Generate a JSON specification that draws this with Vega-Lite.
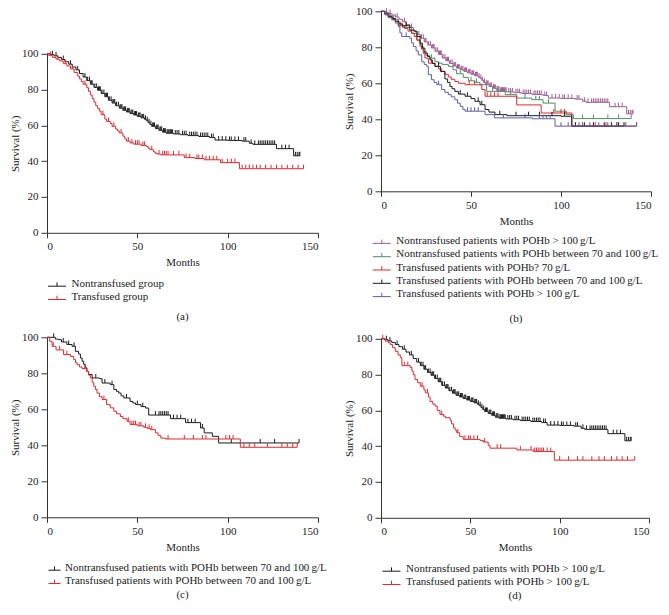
{
"$schema": "https://vega.github.io/schema/vega-lite/v6.json",
"padding": {"left": 9, "top": 5.3, "right": 0, "bottom": 0},
"config": {
  "font": "Liberation Serif",
  "view": {"stroke": null},
  "axis": {"labelFont": "Liberation Serif", "labelFontSize": 11, "labelColor": "#222", "titleFont": "Liberation Serif", "titleFontSize": 11, "titleFontWeight": "normal", "titleColor": "#222", "domainColor": "#333", "tickColor": "#333", "grid": false},
  "axisX": {"tickSize": 5, "labelPadding": 3, "titlePadding": 5},
  "axisY": {"tickSize": 6, "labelPadding": 3, "titlePadding": 1},
  "legend": {"labelFont": "Liberation Serif", "labelFontSize": 11, "labelColor": "#222", "labelLimit": 400, "symbolType": "M-2.25,0.6H2.25M0,0.6V-0.35", "symbolSize": 64, "symbolStrokeWidth": 1, "symbolFillColor": "transparent", "rowPadding": 1.3, "labelOffset": 9, "padding": 0, "orient": "none", "direction": "vertical", "title": null},
  "title": {"font": "Liberation Serif", "fontSize": 11, "fontWeight": "normal", "color": "#222"},
  "point": {"shape": "M0,0V-1", "size": 64, "filled": false, "strokeWidth": 1, "opacity": 1},
  "line": {"interpolate": "step-after", "strokeWidth": 1}
},
"datasets": {
"nt": [
{"t":0,"s":100,"c":0},{"t":2,"s":99.5,"c":0},{"t":3,"s":99.5,"c":1},{"t":4,"s":98.8,"c":0},{"t":5,"s":98.8,"c":1},{"t":6,"s":98,"c":0},{"t":8,"s":96.8,"c":0},{"t":9,"s":96.8,"c":1},{"t":10,"s":95.6,"c":0},{"t":12,"s":94.2,"c":0},{"t":13,"s":94.2,"c":1},{"t":14,"s":92.6,"c":0},{"t":16,"s":91,"c":0},{"t":17,"s":91,"c":1},{"t":18,"s":89,"c":0},{"t":20,"s":87,"c":0},{"t":21,"s":87,"c":1},{"t":22,"s":85,"c":0},{"t":24,"s":83,"c":0},{"t":25,"s":83,"c":1},{"t":26,"s":81.2,"c":0},{"t":28,"s":79.6,"c":0},{"t":29,"s":79.6,"c":1},{"t":30,"s":77.8,"c":0},{"t":32,"s":76,"c":0},{"t":33,"s":76,"c":1},{"t":34,"s":74,"c":0},{"t":36,"s":72.5,"c":0},{"t":37,"s":72.5,"c":1},{"t":38,"s":71,"c":0},{"t":40,"s":69.6,"c":0},{"t":41,"s":69.6,"c":1},{"t":42,"s":68.4,"c":0},{"t":43,"s":68.4,"c":1},{"t":44,"s":67.5,"c":0},{"t":45,"s":67.5,"c":1},{"t":46,"s":66.6,"c":0},{"t":47,"s":66.6,"c":1},{"t":48,"s":65.8,"c":0},{"t":49,"s":65.8,"c":1},{"t":50,"s":65,"c":0},{"t":51,"s":65,"c":1},{"t":52,"s":64.2,"c":0},{"t":53,"s":64.2,"c":1},{"t":54,"s":63.4,"c":0},{"t":55,"s":62.6,"c":0},{"t":56,"s":61.5,"c":0},{"t":57,"s":60.4,"c":0},{"t":58,"s":59.4,"c":0},{"t":59,"s":59.4,"c":1},{"t":60,"s":58.2,"c":0},{"t":61,"s":58.2,"c":1},{"t":62,"s":57.2,"c":0},{"t":63,"s":57.2,"c":1},{"t":64,"s":56.2,"c":0},{"t":65,"s":56.2,"c":1},{"t":66,"s":55.6,"c":0},{"t":67,"s":55.6,"c":1},{"t":68,"s":55.6,"c":1},{"t":69,"s":55.6,"c":1},{"t":70,"s":55.2,"c":0},{"t":71,"s":55.2,"c":1},{"t":72,"s":55.2,"c":1},{"t":73,"s":55.2,"c":1},{"t":74,"s":54.8,"c":0},{"t":75,"s":54.8,"c":1},{"t":76,"s":54.8,"c":1},{"t":77,"s":54.8,"c":1},{"t":78,"s":54.3,"c":0},{"t":79,"s":54.3,"c":1},{"t":80,"s":54.3,"c":1},{"t":81,"s":54.3,"c":1},{"t":82,"s":54.3,"c":1},{"t":83,"s":54.3,"c":1},{"t":84,"s":53.8,"c":0},{"t":85,"s":53.8,"c":1},{"t":86,"s":53.8,"c":1},{"t":87,"s":53.8,"c":1},{"t":88,"s":53.8,"c":1},{"t":89,"s":53.8,"c":1},{"t":90,"s":53.2,"c":0},{"t":91,"s":53.2,"c":1},{"t":92,"s":53.2,"c":1},{"t":93,"s":51.8,"c":0},{"t":95,"s":51.8,"c":1},{"t":97,"s":51.8,"c":1},{"t":99,"s":51.8,"c":1},{"t":100,"s":51.6,"c":0},{"t":101,"s":51.6,"c":1},{"t":102,"s":51.6,"c":1},{"t":104,"s":51.6,"c":1},{"t":106,"s":51.6,"c":1},{"t":108,"s":51.2,"c":0},{"t":109,"s":51.2,"c":1},{"t":110,"s":51.2,"c":1},{"t":112,"s":50,"c":0},{"t":113,"s":50,"c":1},{"t":114,"s":49.4,"c":0},{"t":115,"s":49.4,"c":1},{"t":117,"s":49.4,"c":1},{"t":118,"s":49.4,"c":1},{"t":119,"s":49.4,"c":1},{"t":120,"s":49.4,"c":1},{"t":121,"s":49.4,"c":1},{"t":122,"s":49.4,"c":1},{"t":123,"s":49.4,"c":1},{"t":124,"s":49.4,"c":1},{"t":125,"s":49.4,"c":1},{"t":126,"s":49.4,"c":1},{"t":127,"s":47,"c":0},{"t":130,"s":47,"c":1},{"t":132,"s":47,"c":1},{"t":134,"s":47,"c":1},{"t":136.5,"s":43,"c":0},{"t":137.5,"s":43,"c":1},{"t":138.5,"s":43,"c":1},{"t":139.5,"s":43,"c":1},{"t":140,"s":43,"c":1},
{"t":22.5,"s":85,"c":1},{"t":23.5,"s":85,"c":1},{"t":24.5,"s":83,"c":1},{"t":26.5,"s":81.2,"c":1},{"t":27.5,"s":81.2,"c":1},{"t":28.5,"s":79.6,"c":1},{"t":29.5,"s":79.6,"c":1},{"t":30.5,"s":77.8,"c":1},{"t":31.5,"s":77.8,"c":1},{"t":32.5,"s":76,"c":1},{"t":33.5,"s":76,"c":1},{"t":34.5,"s":74,"c":1},{"t":35.5,"s":74,"c":1},{"t":36.5,"s":72.5,"c":1},{"t":37.5,"s":72.5,"c":1},{"t":38.5,"s":71,"c":1},{"t":39.5,"s":71,"c":1},{"t":40.5,"s":69.6,"c":1},{"t":41.5,"s":69.6,"c":1},{"t":42.5,"s":68.4,"c":1},{"t":43.5,"s":68.4,"c":1},{"t":44.5,"s":67.5,"c":1},{"t":45.5,"s":67.5,"c":1},{"t":46.5,"s":66.6,"c":1},{"t":47.5,"s":66.6,"c":1},{"t":48.5,"s":65.8,"c":1},{"t":49.5,"s":65.8,"c":1},{"t":50.5,"s":65,"c":1},{"t":51.5,"s":65,"c":1},{"t":52.5,"s":64.2,"c":1},{"t":53.5,"s":64.2,"c":1},{"t":54.5,"s":63.4,"c":1},{"t":55.5,"s":62.6,"c":1},{"t":56.5,"s":61.5,"c":1},{"t":57.5,"s":60.4,"c":1},{"t":58.5,"s":59.4,"c":1},{"t":59.5,"s":59.4,"c":1},{"t":60.5,"s":58.2,"c":1},{"t":61.5,"s":58.2,"c":1},{"t":62.5,"s":57.2,"c":1},{"t":63.5,"s":57.2,"c":1},{"t":64.5,"s":56.2,"c":1},{"t":65.5,"s":56.2,"c":1},{"t":66.5,"s":55.6,"c":1},{"t":67.5,"s":55.6,"c":1},{"t":68.5,"s":55.6,"c":1},{"t":69.5,"s":55.6,"c":1}
],
"tg": [
{"t":0,"s":100,"c":0},{"t":1,"s":99,"c":0},{"t":2,"s":99,"c":1},{"t":3,"s":98,"c":0},{"t":5,"s":97,"c":0},{"t":6,"s":97,"c":1},{"t":7,"s":96,"c":0},{"t":9,"s":94.5,"c":0},{"t":10,"s":94.5,"c":1},{"t":11,"s":93.2,"c":0},{"t":13,"s":91.5,"c":0},{"t":14,"s":91.5,"c":1},{"t":15,"s":89.5,"c":0},{"t":17,"s":87.5,"c":0},{"t":18,"s":86,"c":0},{"t":19,"s":84.5,"c":0},{"t":20,"s":83,"c":0},{"t":21,"s":83,"c":1},{"t":22,"s":81,"c":0},{"t":23,"s":79,"c":0},{"t":24,"s":77,"c":0},{"t":25,"s":75,"c":0},{"t":26,"s":73,"c":0},{"t":27,"s":71,"c":0},{"t":28,"s":69.5,"c":0},{"t":29,"s":68,"c":0},{"t":30,"s":66,"c":0},{"t":31,"s":66,"c":1},{"t":32,"s":63.5,"c":0},{"t":33,"s":62.2,"c":0},{"t":34,"s":62.2,"c":1},{"t":35,"s":61,"c":0},{"t":36,"s":59.5,"c":0},{"t":37,"s":59.5,"c":1},{"t":38,"s":58,"c":0},{"t":39,"s":57,"c":0},{"t":40,"s":55.8,"c":0},{"t":41,"s":55.8,"c":1},{"t":42,"s":54,"c":0},{"t":43,"s":52.5,"c":0},{"t":44,"s":51.2,"c":0},{"t":45,"s":51.2,"c":1},{"t":46,"s":50.2,"c":0},{"t":47,"s":50.2,"c":1},{"t":48,"s":49.5,"c":0},{"t":49,"s":49.5,"c":1},{"t":50,"s":49.5,"c":1},{"t":51,"s":49.5,"c":1},{"t":52,"s":48.8,"c":0},{"t":53,"s":48.8,"c":1},{"t":54,"s":48.8,"c":1},{"t":55,"s":48.2,"c":0},{"t":56,"s":47.2,"c":0},{"t":57,"s":46.4,"c":0},{"t":58,"s":46.4,"c":1},{"t":59,"s":45.2,"c":0},{"t":60,"s":44.4,"c":0},{"t":61,"s":44,"c":0},{"t":62,"s":44,"c":1},{"t":63,"s":43.5,"c":0},{"t":64,"s":43.5,"c":1},{"t":65,"s":43.5,"c":1},{"t":66,"s":43.5,"c":1},{"t":67,"s":43.5,"c":1},{"t":70,"s":43.5,"c":1},{"t":73,"s":43.5,"c":1},{"t":76,"s":42,"c":0},{"t":77,"s":42,"c":1},{"t":79,"s":42,"c":1},{"t":82,"s":41.5,"c":0},{"t":83,"s":41.5,"c":1},{"t":84,"s":41.5,"c":1},{"t":86,"s":41.5,"c":1},{"t":87,"s":40.8,"c":0},{"t":88,"s":40.8,"c":1},{"t":90,"s":40.8,"c":1},{"t":92,"s":40.8,"c":1},{"t":94,"s":40.8,"c":1},{"t":96,"s":39.2,"c":0},{"t":97,"s":39.2,"c":1},{"t":100,"s":39.2,"c":1},{"t":102,"s":39.2,"c":1},{"t":104,"s":39.2,"c":1},{"t":106.5,"s":35.8,"c":0},{"t":108,"s":35.8,"c":1},{"t":110,"s":35.8,"c":1},{"t":112,"s":35.8,"c":1},{"t":114,"s":35.8,"c":1},{"t":116,"s":35.8,"c":1},{"t":118,"s":35.8,"c":1},{"t":121,"s":35.8,"c":1},{"t":124,"s":35.8,"c":1},{"t":127,"s":35.8,"c":1},{"t":130,"s":35.8,"c":1},{"t":133,"s":35.8,"c":1},{"t":136,"s":35.8,"c":1},{"t":139,"s":35.8,"c":1},{"t":142,"s":35.8,"c":1}
],
"t100d": [
{"t":0,"s":100,"c":0},{"t":1,"s":100,"c":1},{"t":2.4,"s":98.7,"c":0},{"t":4,"s":97.8,"c":0},{"t":5.2,"s":96.8,"c":0},{"t":6.5,"s":95,"c":0},{"t":8,"s":93,"c":0},{"t":9.5,"s":91,"c":0},{"t":10.8,"s":89.4,"c":0},{"t":11.7,"s":85,"c":0},{"t":13,"s":85,"c":1},{"t":15,"s":85,"c":1},{"t":16.4,"s":84,"c":0},{"t":17.3,"s":82,"c":0},{"t":18,"s":80,"c":0},{"t":19,"s":77.3,"c":0},{"t":20.5,"s":75.5,"c":0},{"t":22,"s":73.5,"c":0},{"t":23,"s":73.5,"c":1},{"t":24,"s":71.5,"c":0},{"t":24.8,"s":69.8,"c":0},{"t":26,"s":69.8,"c":1},{"t":26.5,"s":67.5,"c":0},{"t":27.5,"s":65,"c":0},{"t":29,"s":63.5,"c":0},{"t":30.3,"s":62.4,"c":0},{"t":31.5,"s":60,"c":0},{"t":33,"s":57.7,"c":0},{"t":34,"s":57.7,"c":1},{"t":35,"s":56.8,"c":0},{"t":36,"s":55.9,"c":0},{"t":38.7,"s":54.5,"c":0},{"t":39.5,"s":52.5,"c":0},{"t":40.6,"s":50.3,"c":0},{"t":41.5,"s":49,"c":0},{"t":42.4,"s":47.5,"c":0},{"t":43,"s":47.5,"c":1},{"t":44,"s":45.5,"c":0},{"t":46,"s":43.8,"c":0},{"t":47,"s":43.8,"c":1},{"t":49,"s":43.8,"c":1},{"t":50,"s":43.8,"c":1},{"t":52,"s":43.8,"c":1},{"t":54,"s":43.8,"c":1},{"t":55.5,"s":43.1,"c":0},{"t":57.3,"s":42.3,"c":0},{"t":58,"s":42.3,"c":1},{"t":60,"s":40.5,"c":0},{"t":61,"s":38.9,"c":0},{"t":65,"s":38.9,"c":1},{"t":67,"s":38.9,"c":1},{"t":76,"s":37.9,"c":0},{"t":78,"s":37.9,"c":1},{"t":84,"s":37.9,"c":1},{"t":85.2,"s":37,"c":0},{"t":86,"s":37,"c":1},{"t":87,"s":37,"c":1},{"t":88,"s":37,"c":1},{"t":89,"s":37,"c":1},{"t":90,"s":37,"c":1},{"t":91,"s":37,"c":1},{"t":93,"s":37,"c":1},{"t":95,"s":37,"c":1},{"t":97,"s":32.2,"c":0},{"t":100,"s":32.2,"c":1},{"t":105,"s":32.2,"c":1},{"t":110,"s":32.2,"c":1},{"t":113,"s":32.2,"c":1},{"t":118,"s":32.2,"c":1},{"t":122,"s":32.2,"c":1},{"t":125,"s":32.2,"c":1},{"t":129,"s":32.2,"c":1},{"t":132,"s":32.2,"c":1},{"t":135,"s":32.2,"c":1},{"t":138,"s":32.2,"c":1},{"t":142,"s":32.2,"c":1}
],
"nt70c": [
{"t":0,"s":100,"c":0},{"t":3.7,"s":100,"c":1},{"t":4.6,"s":99,"c":0},{"t":6.5,"s":98.7,"c":0},{"t":8,"s":97.4,"c":0},{"t":9,"s":97.4,"c":1},{"t":11,"s":96,"c":0},{"t":12,"s":96,"c":1},{"t":13.9,"s":95,"c":0},{"t":15,"s":95,"c":1},{"t":15.7,"s":92.2,"c":0},{"t":17.5,"s":90.7,"c":0},{"t":18.5,"s":88.5,"c":0},{"t":19.4,"s":86.7,"c":0},{"t":20.3,"s":85,"c":0},{"t":21.2,"s":83,"c":0},{"t":22.1,"s":81,"c":0},{"t":23,"s":79.3,"c":0},{"t":25,"s":77.4,"c":0},{"t":27,"s":77.4,"c":1},{"t":29,"s":77,"c":0},{"t":30.5,"s":74.6,"c":0},{"t":32,"s":74.6,"c":1},{"t":35,"s":73.7,"c":0},{"t":36,"s":73.7,"c":1},{"t":37,"s":71,"c":0},{"t":38.5,"s":70,"c":0},{"t":39.7,"s":69,"c":0},{"t":41,"s":67.5,"c":0},{"t":42.5,"s":66.3,"c":0},{"t":44,"s":66.3,"c":1},{"t":46,"s":64.4,"c":0},{"t":47.5,"s":63.5,"c":0},{"t":49,"s":62.6,"c":0},{"t":50,"s":62.6,"c":1},{"t":52,"s":61.5,"c":0},{"t":53,"s":61.5,"c":1},{"t":54.5,"s":60.7,"c":0},{"t":56.3,"s":56.8,"c":0},{"t":60,"s":56.8,"c":1},{"t":62,"s":56.8,"c":1},{"t":63,"s":56.8,"c":1},{"t":64,"s":56.8,"c":1},{"t":65,"s":56.8,"c":1},{"t":66,"s":56.8,"c":1},{"t":67,"s":56.8,"c":1},{"t":68.4,"s":54.8,"c":0},{"t":70,"s":54.8,"c":1},{"t":72,"s":54.8,"c":1},{"t":74,"s":54.8,"c":1},{"t":76.7,"s":52.6,"c":0},{"t":78,"s":52.6,"c":1},{"t":80,"s":52.6,"c":1},{"t":82,"s":52.6,"c":1},{"t":85,"s":49.6,"c":0},{"t":86,"s":49.6,"c":1},{"t":87,"s":46.9,"c":0},{"t":91.5,"s":45,"c":0},{"t":95,"s":41.3,"c":0},{"t":102,"s":41.3,"c":1},{"t":118,"s":41.3,"c":1},{"t":126,"s":41.3,"c":1},{"t":139.5,"s":41.3,"c":1}
],
"t70c": [
{"t":0,"s":100,"c":0},{"t":1.5,"s":97.8,"c":0},{"t":2.8,"s":95,"c":0},{"t":3.5,"s":95,"c":1},{"t":5,"s":93,"c":0},{"t":7,"s":93,"c":1},{"t":9.2,"s":90.4,"c":0},{"t":11,"s":90.4,"c":1},{"t":13,"s":89.4,"c":0},{"t":14.8,"s":87.6,"c":0},{"t":15.8,"s":86,"c":0},{"t":16.6,"s":84.8,"c":0},{"t":18,"s":83.5,"c":0},{"t":19.4,"s":82.6,"c":0},{"t":21,"s":82.6,"c":1},{"t":22,"s":81,"c":0},{"t":23,"s":79,"c":0},{"t":24,"s":77.4,"c":0},{"t":25,"s":75,"c":0},{"t":25.9,"s":72.8,"c":0},{"t":26.8,"s":71,"c":0},{"t":27.7,"s":69,"c":0},{"t":29,"s":67,"c":0},{"t":30.5,"s":65.4,"c":0},{"t":31.5,"s":65.4,"c":1},{"t":33,"s":62.6,"c":0},{"t":35,"s":60.8,"c":0},{"t":37,"s":58.9,"c":0},{"t":38.5,"s":57.5,"c":0},{"t":40.6,"s":56,"c":0},{"t":42,"s":54.8,"c":0},{"t":44.3,"s":53.3,"c":0},{"t":45,"s":53.3,"c":1},{"t":46,"s":51.5,"c":0},{"t":47,"s":51.5,"c":1},{"t":48,"s":51.5,"c":1},{"t":49,"s":51.5,"c":1},{"t":50,"s":50.8,"c":0},{"t":51,"s":50.8,"c":1},{"t":52,"s":50.8,"c":1},{"t":53.6,"s":50,"c":0},{"t":54.5,"s":50,"c":1},{"t":55.5,"s":49.4,"c":0},{"t":56.5,"s":49.4,"c":1},{"t":57.3,"s":48.7,"c":0},{"t":58,"s":48.7,"c":1},{"t":60,"s":46.9,"c":0},{"t":61.5,"s":45.5,"c":0},{"t":63,"s":44,"c":0},{"t":65.6,"s":43.5,"c":0},{"t":67,"s":43.5,"c":1},{"t":76,"s":43.5,"c":1},{"t":81,"s":43.5,"c":1},{"t":86,"s":43.5,"c":1},{"t":88,"s":43.5,"c":1},{"t":99,"s":43.5,"c":1},{"t":101,"s":43.5,"c":1},{"t":103,"s":43.5,"c":1},{"t":107,"s":38.9,"c":0},{"t":109,"s":38.9,"c":1},{"t":112,"s":38.9,"c":1},{"t":115,"s":38.9,"c":1},{"t":122,"s":38.9,"c":1},{"t":130,"s":38.9,"c":1},{"t":133,"s":38.9,"c":1},{"t":136,"s":38.9,"c":1},{"t":138.5,"s":38.9,"c":1}
],
"nt70b": [
{"t":0,"s":100,"c":0},{"t":3,"s":99,"c":0},{"t":5,"s":97.5,"c":0},{"t":7,"s":95.5,"c":0},{"t":9.6,"s":92.4,"c":0},{"t":12,"s":91,"c":0},{"t":14,"s":91,"c":1},{"t":17,"s":87.8,"c":0},{"t":19.8,"s":84,"c":0},{"t":21.7,"s":80.4,"c":0},{"t":23.5,"s":77.7,"c":0},{"t":25,"s":75.5,"c":0},{"t":27,"s":74,"c":0},{"t":28,"s":74,"c":1},{"t":30,"s":72,"c":0},{"t":31.8,"s":71.2,"c":0},{"t":34,"s":70.5,"c":0},{"t":37.4,"s":69.4,"c":0},{"t":40,"s":67.5,"c":0},{"t":42,"s":65.3,"c":0},{"t":44,"s":65.3,"c":1},{"t":45.7,"s":63.3,"c":0},{"t":48.5,"s":61.4,"c":0},{"t":50,"s":61.4,"c":1},{"t":52,"s":60.5,"c":0},{"t":53,"s":60.5,"c":1},{"t":55,"s":59.2,"c":0},{"t":58.7,"s":55.5,"c":0},{"t":62,"s":55.5,"c":1},{"t":65,"s":55.5,"c":1},{"t":69,"s":53.7,"c":0},{"t":72,"s":53.7,"c":1},{"t":75.4,"s":51.8,"c":0},{"t":80,"s":51.8,"c":1},{"t":83.7,"s":50.9,"c":0},{"t":86,"s":50.9,"c":1},{"t":88,"s":50.9,"c":1},{"t":90,"s":49,"c":0},{"t":93,"s":49,"c":1},{"t":96.7,"s":44.5,"c":0},{"t":103,"s":42.6,"c":0},{"t":106.9,"s":40.4,"c":0},{"t":112,"s":40.4,"c":1},{"t":118,"s":40.4,"c":1},{"t":126,"s":40.4,"c":1},{"t":132,"s":40.4,"c":1},{"t":139,"s":40.4,"c":1}
],
"t70low": [
{"t":0,"s":100,"c":0},{"t":2,"s":99,"c":0},{"t":3.5,"s":98,"c":0},{"t":5,"s":97,"c":0},{"t":6.5,"s":95.5,"c":0},{"t":7.8,"s":94.3,"c":0},{"t":9.6,"s":91.9,"c":0},{"t":11,"s":91.9,"c":1},{"t":13,"s":90.5,"c":0},{"t":15,"s":89,"c":0},{"t":17,"s":87.8,"c":0},{"t":18.5,"s":86,"c":0},{"t":20,"s":84,"c":0},{"t":21.7,"s":81.4,"c":0},{"t":22.5,"s":79,"c":0},{"t":23.5,"s":76.5,"c":0},{"t":24.4,"s":74,"c":0},{"t":26.3,"s":71.2,"c":0},{"t":28,"s":71.2,"c":1},{"t":30,"s":69.4,"c":0},{"t":32,"s":68,"c":0},{"t":33.7,"s":66.6,"c":0},{"t":35.5,"s":65,"c":0},{"t":37.4,"s":63.5,"c":0},{"t":39,"s":62.2,"c":0},{"t":41,"s":61,"c":0},{"t":43,"s":60,"c":0},{"t":46.7,"s":59.2,"c":0},{"t":49,"s":59.2,"c":1},{"t":52,"s":59.2,"c":1},{"t":56,"s":56.5,"c":0},{"t":57.8,"s":52.8,"c":0},{"t":59,"s":52.8,"c":1},{"t":61,"s":52.8,"c":1},{"t":63,"s":52.8,"c":1},{"t":65,"s":52.8,"c":1},{"t":75.4,"s":48,"c":0},{"t":89,"s":43.5,"c":0},{"t":96,"s":43.5,"c":1},{"t":100,"s":43.5,"c":1},{"t":102,"s":43.5,"c":1},{"t":106,"s":36.2,"c":0},{"t":112,"s":36.2,"c":1},{"t":119,"s":36.2,"c":1},{"t":125,"s":36.2,"c":1},{"t":131,"s":36.2,"c":1},{"t":142,"s":36.2,"c":1}
],
"t70b": [
{"t":0,"s":100,"c":0},{"t":2,"s":98.5,"c":0},{"t":4,"s":97,"c":0},{"t":6,"s":96,"c":0},{"t":8,"s":94.5,"c":0},{"t":10,"s":93,"c":0},{"t":12,"s":92,"c":0},{"t":14,"s":92,"c":1},{"t":16,"s":89.5,"c":0},{"t":18.9,"s":88.7,"c":0},{"t":20,"s":86,"c":0},{"t":21.7,"s":82.3,"c":0},{"t":23,"s":79.5,"c":0},{"t":24.4,"s":76.8,"c":0},{"t":25.8,"s":74.8,"c":0},{"t":27.2,"s":73,"c":0},{"t":28.5,"s":71,"c":0},{"t":30,"s":69.4,"c":0},{"t":32,"s":69.4,"c":1},{"t":33,"s":66.6,"c":0},{"t":35.5,"s":62.4,"c":0},{"t":37,"s":60.5,"c":0},{"t":38.3,"s":58.3,"c":0},{"t":39.5,"s":57,"c":0},{"t":41,"s":55.5,"c":0},{"t":43,"s":54,"c":0},{"t":44,"s":54,"c":1},{"t":46.7,"s":52.8,"c":0},{"t":48,"s":52.8,"c":1},{"t":50,"s":51.5,"c":0},{"t":52.2,"s":50,"c":0},{"t":54,"s":50,"c":1},{"t":55,"s":48.1,"c":0},{"t":56,"s":48.1,"c":1},{"t":57.8,"s":45.4,"c":0},{"t":60,"s":44,"c":0},{"t":63.3,"s":42.6,"c":0},{"t":66,"s":42.6,"c":1},{"t":70,"s":42,"c":0},{"t":75,"s":42,"c":1},{"t":82,"s":42,"c":1},{"t":88,"s":42,"c":1},{"t":95,"s":42,"c":1},{"t":100,"s":41.7,"c":0},{"t":102,"s":41.7,"c":1},{"t":106,"s":36.2,"c":0},{"t":108,"s":36.2,"c":1},{"t":113,"s":36.2,"c":1},{"t":118,"s":36.2,"c":1},{"t":124,"s":36.2,"c":1},{"t":128,"s":36.2,"c":1},{"t":132,"s":36.2,"c":1},{"t":135,"s":36.2,"c":1}
],
"t100b": [
{"t":0,"s":100,"c":0},{"t":2.2,"s":98,"c":0},{"t":4,"s":96.5,"c":0},{"t":6,"s":95.2,"c":0},{"t":8,"s":93.5,"c":0},{"t":9.6,"s":91.5,"c":0},{"t":10.5,"s":88,"c":0},{"t":11.5,"s":86,"c":0},{"t":14,"s":86,"c":1},{"t":16,"s":85,"c":0},{"t":17,"s":82.5,"c":0},{"t":18,"s":80.4,"c":0},{"t":19.5,"s":78,"c":0},{"t":20.7,"s":75.8,"c":0},{"t":22.6,"s":72,"c":0},{"t":24,"s":70.5,"c":0},{"t":25.4,"s":69.4,"c":0},{"t":26.3,"s":64.8,"c":0},{"t":28,"s":62,"c":0},{"t":29.5,"s":60.5,"c":0},{"t":31,"s":59.2,"c":0},{"t":32,"s":59.2,"c":1},{"t":33.7,"s":56.5,"c":0},{"t":35.5,"s":55,"c":0},{"t":37.4,"s":53.7,"c":0},{"t":39,"s":52.5,"c":0},{"t":41,"s":50.9,"c":0},{"t":42.5,"s":49,"c":0},{"t":44,"s":47.2,"c":0},{"t":45.5,"s":45.5,"c":0},{"t":46.7,"s":44.5,"c":0},{"t":48,"s":44.5,"c":1},{"t":50,"s":44.5,"c":1},{"t":52,"s":44.5,"c":1},{"t":54,"s":44.5,"c":1},{"t":57.8,"s":42.6,"c":0},{"t":63,"s":40.8,"c":0},{"t":68,"s":40.8,"c":1},{"t":80,"s":40.8,"c":1},{"t":84,"s":40.3,"c":0},{"t":88,"s":40.3,"c":1},{"t":90,"s":40.3,"c":1},{"t":92,"s":40.3,"c":1},{"t":94,"s":40.3,"c":1},{"t":96.7,"s":36.2,"c":0},{"t":100,"s":36.2,"c":1},{"t":104,"s":36.2,"c":1},{"t":110,"s":36.2,"c":1},{"t":116,"s":36.2,"c":1},{"t":121,"s":36.2,"c":1},{"t":126,"s":36.2,"c":1},{"t":131,"s":36.2,"c":1},{"t":136,"s":36.2,"c":1},{"t":142,"s":36.2,"c":1}
]
},
"resolve": {"scale": {"color": "independent"}, "legend": {"color": "independent"}},
"spacing": 15,
"hconcat": [
{
 "resolve": {"scale": {"color": "independent"}, "legend": {"color": "independent"}},
 "spacing": 8.5,
 "vconcat": [
 {
  "width": 271, "height": 27.5,
  "view": {"fill": "white", "stroke": null},
  "data": {"values": [{}]},
  "mark": {"type": "text", "text": ""}
 },
 {
  "width": 271, "height": 179,
  "title": {"text": "(a)", "orient": "bottom", "offset": 9, "anchor": "middle"},
  "encoding": {
   "x": {"field": "t", "type": "quantitative", "scale": {"domain": [0, 150], "nice": false}, "axis": {"values": [0, 50, 100, 150], "title": "Months"}},
   "y": {"field": "s", "type": "quantitative", "scale": {"domain": [0, 100], "nice": false}, "axis": {"values": [0, 20, 40, 60, 80, 100], "title": "Survival (%)"}}
  },
  "layer": [
   {"data": {"name": "nt"}, "mark": "line", "encoding": {"color": {"datum": "Nontransfused group", "type": "nominal", "scale": {"domain": ["Nontransfused group", "Transfused group"], "range": ["#1a1a1a", "#e5262b"]}, "legend": {"orient": "none", "legendX": 4.5, "legendY": 224.5}}}},
   {"data": {"name": "nt"}, "transform": [{"filter": "datum.c == 1"}], "mark": "point", "encoding": {"color": {"datum": "Nontransfused group", "type": "nominal"}}},
   {"data": {"name": "tg"}, "mark": "line", "encoding": {"color": {"datum": "Transfused group", "type": "nominal"}}},
   {"data": {"name": "tg"}, "transform": [{"filter": "datum.c == 1"}], "mark": "point", "encoding": {"color": {"datum": "Transfused group", "type": "nominal"}}},
   {"data": {"values": [{}]}, "mark": {"type": "text", "text": "P", "fontStyle": "italic", "fontSize": 11, "align": "left", "baseline": "middle", "color": "#222"}, "encoding": {"x": {"datum": 3.7}, "y": {"datum": 6.3}}},
   {"data": {"values": [{}]}, "mark": {"type": "text", "text": "< 0.001", "fontSize": 11, "align": "left", "baseline": "middle", "dx": 8.5, "color": "#222"}, "encoding": {"x": {"datum": 3.7}, "y": {"datum": 6.3}}}
  ]
 },
 {
  "width": 271, "height": 180,
  "title": {"text": "(c)", "orient": "bottom", "offset": 2.5, "anchor": "middle"},
  "encoding": {
   "x": {"field": "t", "type": "quantitative", "scale": {"domain": [0, 150], "nice": false}, "axis": {"values": [0, 50, 100, 150], "title": "Months"}},
   "y": {"field": "s", "type": "quantitative", "scale": {"domain": [0, 100], "nice": false}, "axis": {"values": [0, 20, 40, 60, 80, 100], "title": "Survival (%)"}}
  },
  "layer": [
   {"data": {"name": "nt70c"}, "mark": "line", "encoding": {"color": {"datum": "Nontransfused patients with POHb between 70 and 100\u2009g/L", "type": "nominal", "scale": {"domain": ["Nontransfused patients with POHb between 70 and 100\u2009g/L", "Transfused patients with POHb between 70 and 100\u2009g/L"], "range": ["#1a1a1a", "#e5262b"]}, "legend": {"orient": "none", "legendX": 2, "legendY": 225, "symbolType": "M-1.5,0.6H1.5M0,0.6V-0.35", "labelOffset": 5}}}},
   {"data": {"name": "nt70c"}, "transform": [{"filter": "datum.c == 1"}], "mark": "point", "encoding": {"color": {"datum": "Nontransfused patients with POHb between 70 and 100\u2009g/L", "type": "nominal"}}},
   {"data": {"name": "t70c"}, "mark": "line", "encoding": {"color": {"datum": "Transfused patients with POHb between 70 and 100\u2009g/L", "type": "nominal"}}},
   {"data": {"name": "t70c"}, "transform": [{"filter": "datum.c == 1"}], "mark": "point", "encoding": {"color": {"datum": "Transfused patients with POHb between 70 and 100\u2009g/L", "type": "nominal"}}},
   {"data": {"values": [{}]}, "mark": {"type": "text", "text": "P", "fontStyle": "italic", "fontSize": 11, "align": "left", "baseline": "middle", "color": "#222"}, "encoding": {"x": {"datum": 4.6}, "y": {"datum": 6.5}}},
   {"data": {"values": [{}]}, "mark": {"type": "text", "text": "= 0.191", "fontSize": 11, "align": "left", "baseline": "middle", "dx": 8, "color": "#222"}, "encoding": {"x": {"datum": 4.6}, "y": {"datum": 6.5}}}
  ]
 }
 ]
},
{
 "resolve": {"scale": {"color": "independent"}, "legend": {"color": "independent"}},
 "spacing": 8.5,
 "vconcat": [
 {
  "width": 270, "height": 180,
  "title": {"text": "(b)", "orient": "bottom", "offset": 13.5, "anchor": "middle"},
  "encoding": {
   "x": {"field": "t", "type": "quantitative", "scale": {"domain": [0, 150], "nice": false}, "axis": {"values": [0, 50, 100, 150], "title": "Months"}},
   "y": {"field": "s", "type": "quantitative", "scale": {"domain": [0, 100], "nice": false}, "axis": {"values": [0, 20, 40, 60, 80, 100], "title": "Survival (%)"}}
  },
  "layer": [
   {"data": {"name": "nt"}, "mark": "line", "encoding": {"color": {"datum": "Nontransfused patients with POHb > 100\u2009g/L", "type": "nominal", "scale": {"domain": ["Nontransfused patients with POHb > 100\u2009g/L", "Nontransfused patients with POHb between 70 and 100\u2009g/L", "Transfused patients with POHb? 70\u2009g/L", "Transfused patients with POHb between 70 and 100\u2009g/L", "Transfused patients with POHb > 100\u2009g/L"], "range": ["#9c5a90", "#4a8f64", "#e5262b", "#1a1a1a", "#5a5ea6"]}, "legend": {"orient": "none", "legendX": -4.7, "legendY": 224.2}}}},
   {"data": {"name": "nt"}, "transform": [{"filter": "datum.c == 1"}], "mark": "point", "encoding": {"color": {"datum": "Nontransfused patients with POHb > 100\u2009g/L", "type": "nominal"}}},
   {"data": {"name": "nt70b"}, "mark": "line", "encoding": {"color": {"datum": "Nontransfused patients with POHb between 70 and 100\u2009g/L", "type": "nominal"}}},
   {"data": {"name": "nt70b"}, "transform": [{"filter": "datum.c == 1"}], "mark": "point", "encoding": {"color": {"datum": "Nontransfused patients with POHb between 70 and 100\u2009g/L", "type": "nominal"}}},
   {"data": {"name": "t70low"}, "mark": "line", "encoding": {"color": {"datum": "Transfused patients with POHb? 70\u2009g/L", "type": "nominal"}}},
   {"data": {"name": "t70low"}, "transform": [{"filter": "datum.c == 1"}], "mark": "point", "encoding": {"color": {"datum": "Transfused patients with POHb? 70\u2009g/L", "type": "nominal"}}},
   {"data": {"name": "t70b"}, "mark": "line", "encoding": {"color": {"datum": "Transfused patients with POHb between 70 and 100\u2009g/L", "type": "nominal"}}},
   {"data": {"name": "t70b"}, "transform": [{"filter": "datum.c == 1"}], "mark": "point", "encoding": {"color": {"datum": "Transfused patients with POHb between 70 and 100\u2009g/L", "type": "nominal"}}},
   {"data": {"name": "t100b"}, "mark": "line", "encoding": {"color": {"datum": "Transfused patients with POHb > 100\u2009g/L", "type": "nominal"}}},
   {"data": {"name": "t100b"}, "transform": [{"filter": "datum.c == 1"}], "mark": "point", "encoding": {"color": {"datum": "Transfused patients with POHb > 100\u2009g/L", "type": "nominal"}}},
   {"data": {"values": [{}]}, "mark": {"type": "text", "text": "P", "fontStyle": "italic", "fontSize": 11, "align": "left", "baseline": "middle", "color": "#222"}, "encoding": {"x": {"datum": 5.9}, "y": {"datum": 6.7}}},
   {"data": {"values": [{}]}, "mark": {"type": "text", "text": "= 0.001", "fontSize": 11, "align": "left", "baseline": "middle", "dx": 8, "color": "#222"}, "encoding": {"x": {"datum": 5.9}, "y": {"datum": 6.7}}}
  ]
 },
 {
  "width": 268, "height": 179,
  "title": {"text": "(d)", "orient": "bottom", "offset": 2.5, "anchor": "middle"},
  "encoding": {
   "x": {"field": "t", "type": "quantitative", "scale": {"domain": [0, 150], "nice": false}, "axis": {"values": [0, 50, 100, 150], "title": "Months"}},
   "y": {"field": "s", "type": "quantitative", "scale": {"domain": [0, 100], "nice": false}, "axis": {"values": [0, 20, 40, 60, 80, 100], "title": "Survival (%)"}}
  },
  "layer": [
   {"data": {"name": "nt"}, "mark": "line", "encoding": {"color": {"datum": "Nontransfused patients with POHb > 100\u2009g/L", "type": "nominal", "scale": {"domain": ["Nontransfused patients with POHb > 100\u2009g/L", "Transfused patients with POHb > 100\u2009g/L"], "range": ["#1a1a1a", "#e5262b"]}, "legend": {"orient": "none", "legendX": 5, "legendY": 224.5}}}},
   {"data": {"name": "nt"}, "transform": [{"filter": "datum.c == 1"}], "mark": "point", "encoding": {"color": {"datum": "Nontransfused patients with POHb > 100\u2009g/L", "type": "nominal"}}},
   {"data": {"name": "t100d"}, "mark": "line", "encoding": {"color": {"datum": "Transfused patients with POHb > 100\u2009g/L", "type": "nominal"}}},
   {"data": {"name": "t100d"}, "transform": [{"filter": "datum.c == 1"}], "mark": "point", "encoding": {"color": {"datum": "Transfused patients with POHb > 100\u2009g/L", "type": "nominal"}}},
   {"data": {"values": [{}]}, "mark": {"type": "text", "text": "P", "fontStyle": "italic", "fontSize": 11, "align": "left", "baseline": "middle", "color": "#222"}, "encoding": {"x": {"datum": 5.8}, "y": {"datum": 6.5}}},
   {"data": {"values": [{}]}, "mark": {"type": "text", "text": "< 0.001", "fontSize": 11, "align": "left", "baseline": "middle", "dx": 8.5, "color": "#222"}, "encoding": {"x": {"datum": 5.8}, "y": {"datum": 6.5}}}
  ]
 }
 ]
}
]
}
